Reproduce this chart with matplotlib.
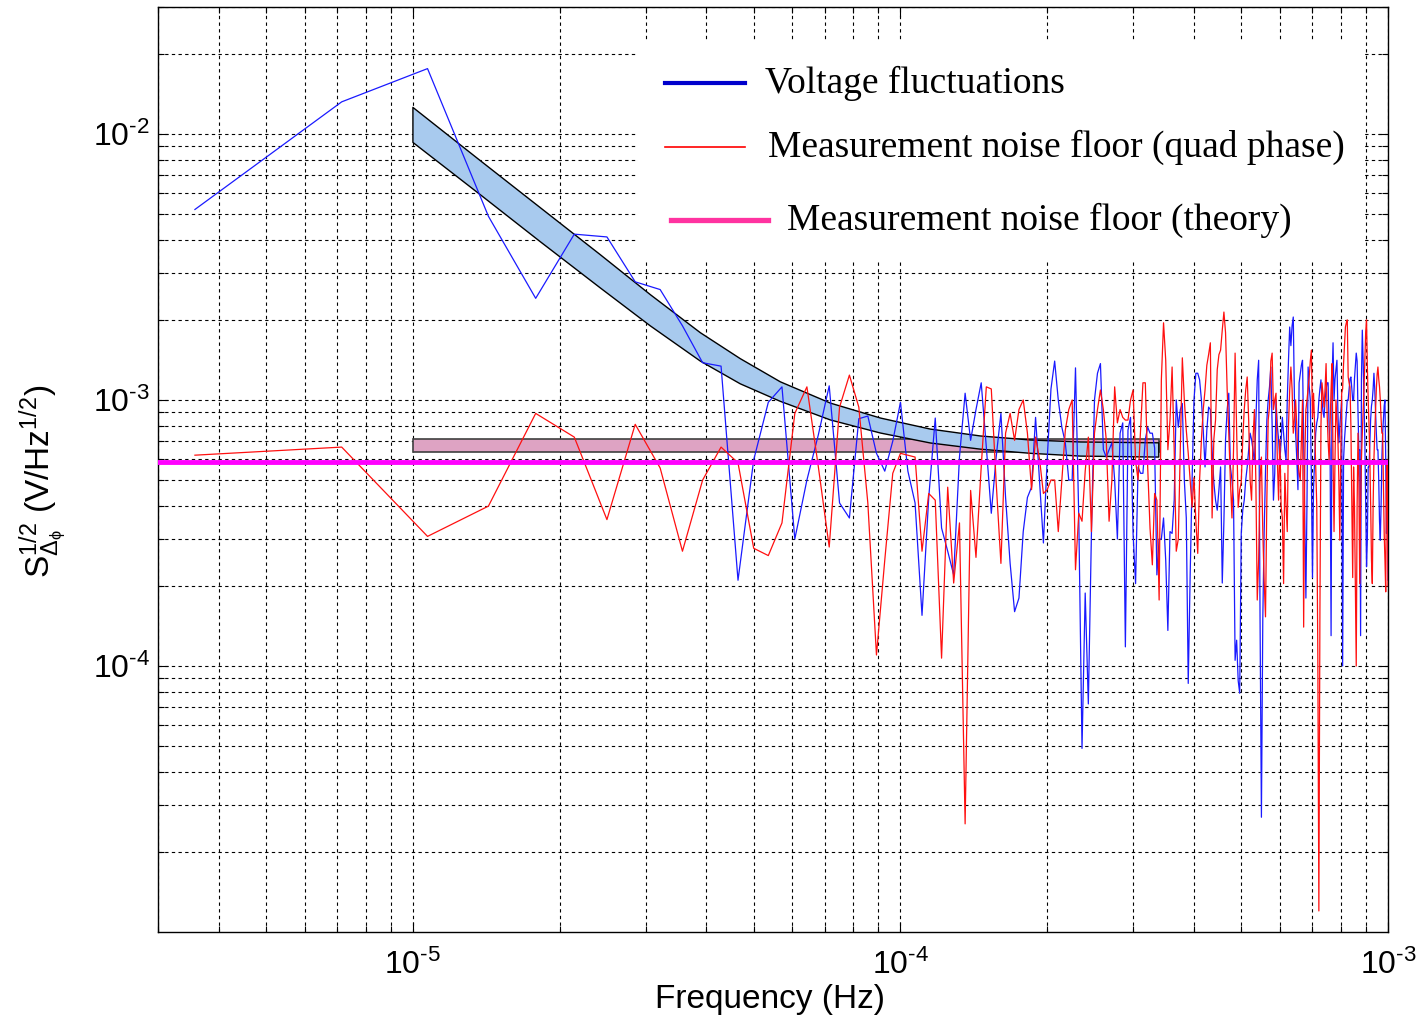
import numpy as np
import matplotlib
matplotlib.use('Agg')
import matplotlib.pyplot as plt
from matplotlib.patches import Rectangle
from matplotlib.lines import Line2D
from matplotlib.ticker import FixedLocator, NullFormatter

plt.rcParams['font.family'] = ['Liberation Sans', 'DejaVu Sans']
plt.rcParams['mathtext.fontset'] = 'custom'
plt.rcParams['mathtext.rm'] = 'Liberation Sans'
plt.rcParams['mathtext.it'] = 'Liberation Sans:italic'
plt.rcParams['mathtext.default'] = 'regular'

# FFT bins: df = 1e-4/28 Hz, 280 bins up to 1 mHz
df = 1e-4 / 28
freq = np.arange(1, 281) * df

# amplitude spectral densities, in units of 1e-4 V/Hz^1/2
volt = np.array([
    52, 132, 176, 49, 24.1, 42, 41, 27.8, 26, 19,
    13.8, 13.4, 2.1, 5.95, 9.8, 11.2, 3.0, 5.0, 7.4, 11.3,
    4.1, 3.6, 8.5, 8.7, 6.3, 5.4, 7.0, 9.8, 5.4, 4.1,
    1.55, 4.3, 8.55, 3.3, 2.7, 2.2, 6.1, 10.6, 7.05, 9.2,
    11.6, 6.65, 3.75, 6.1, 8.9, 4.3, 2.43, 1.6, 1.8, 3.2,
    4.3, 4.7, 8.6, 5.0, 2.9, 6.0, 11.0, 14.0, 10.0, 7.9,
    6.9, 5.0, 5.0, 13.2, 3.6, 0.49, 1.88, 0.72, 3.16, 10.0,
    12.6, 13.7, 6.5, 6.1, 6.5, 6.9, 5.0, 3.0, 7.5, 8.2,
    1.18, 7.7, 8.6, 3.15, 2.04, 5.6, 5.3, 5.3, 7.1, 7.9,
    7.5, 7.5, 6.6, 2.2, 3.0, 3.0, 3.6, 2.5, 1.36, 3.2,
    3.15, 4.2, 10.0, 7.9, 9.2, 9.7, 5.0, 3.6, 0.86, 2.2,
    5.0, 10.0, 12.6, 12.6, 11.9, 10.0, 7.7, 5.6, 7.7, 9.4,
    9.2, 6.5, 4.9, 4.2, 3.85, 4.6, 5.6, 2.05, 3.5, 7.1,
    9.2, 10.6, 5.6, 5.0, 4.2, 1.05, 1.25, 0.88, 0.79, 3.15,
    3.85, 4.2, 5.0, 5.6, 6.5, 7.5, 7.1, 6.5, 5.8, 8.4,
    11.9, 14.1, 1.53, 0.27, 1.5, 3.15, 5.4, 8.4, 10.0, 11.2,
    13.3, 8.0, 4.2, 5.3, 10.0, 8.0, 7.1, 5.95, 7.0, 8.6,
    7.5, 6.5, 5.95, 10.0, 14.1, 18.8, 16.0, 19.0, 20.5, 10.0,
    7.5, 6.0, 4.6, 11.6, 12.5, 13.5, 14.1, 7.1, 3.5, 1.8,
    4.2, 13.3, 11.2, 10.0, 5.0, 2.15, 4.7, 6.0, 7.5, 8.2,
    8.6, 10.0, 11.0, 11.9, 10.0, 9.0, 8.6, 10.0, 11.0, 11.6,
    11.6, 8.0, 6.5, 1.3, 12.0, 16.4, 10.0, 12.0, 13.0, 14.1,
    9.0, 6.9, 8.0, 9.0, 10.0, 1.0, 6.0, 7.1, 8.0, 9.0,
    10.0, 10.0, 11.0, 12.0, 12.2, 11.0, 10.0, 10.0, 12.0, 13.5,
    15.0, 14.0, 9.0, 6.5, 6.5, 1.3, 12.0, 18.3, 14.0, 10.0,
    7.0, 4.0, 2.36, 3.0, 5.6, 5.6, 7.0, 8.5, 9.5, 10.0,
    11.0, 12.6, 11.0, 9.0, 7.5, 6.5, 6.5, 5.0, 3.5, 2.97,
    4.0, 6.0, 7.5, 8.5, 9.5, 10.0, 6.0, 3.15, 4.0, 2.1,
]) * 1e-4

quad = np.array([
    6.2, 6.65, 3.07, 3.99, 8.9, 7.25, 3.55, 8.1, 5.55, 2.7,
    5.0, 6.65, 5.8, 2.77, 2.6, 3.45, 8.9, 11.2, 5.6, 2.8,
    9.4, 12.4, 9.4, 4.1, 1.1, 2.5, 5.3, 6.3, 6.2, 6.1,
    2.7, 4.45, 4.2, 1.07, 4.7, 2.05, 3.45, 0.255, 4.57, 2.56,
    5.6, 11.2, 11.0, 4.9, 2.43, 7.5, 8.9, 7.05, 9.2, 10.0,
    7.5, 4.6, 7.25, 6.0, 4.45, 4.6, 5.0, 5.0, 3.2, 5.0,
    7.7, 9.2, 10.0, 2.3, 3.75, 3.5, 5.4, 7.25, 3.2, 7.5,
    9.2, 10.9, 9.2, 7.1, 3.5, 5.0, 11.2, 8.2, 9.2, 8.6,
    8.4, 8.4, 10.0, 10.9, 5.9, 5.0, 7.7, 11.6, 11.6, 5.6,
    3.3, 2.4, 4.45, 4.2, 1.77, 11.9, 19.5, 14.1, 6.5, 8.4,
    13.3, 6.5, 2.7, 3.0, 6.5, 14.4, 10.0, 7.7, 6.3, 5.0,
    3.95, 5.1, 3.5, 2.65, 5.0, 7.1, 9.2, 10.9, 13.5, 14.8,
    16.4, 3.6, 7.1, 8.4, 13.0, 14.8, 15.4, 18.3, 21.4, 17.9,
    10.9, 7.5, 5.0, 3.6, 6.5, 15.0, 7.7, 3.95, 4.6, 4.9,
    7.1, 9.2, 10.9, 12.2, 8.4, 5.0, 4.2, 7.1, 9.2, 5.0,
    1.77, 2.5, 5.0, 6.1, 3.2, 2.1, 1.53, 4.2, 8.4, 9.4,
    14.0, 15.0, 9.2, 10.0, 10.6, 6.0, 4.2, 7.1, 4.0, 3.6,
    2.04, 5.3, 4.0, 3.2, 8.0, 10.9, 13.3, 11.0, 7.5, 8.5,
    10.0, 8.0, 5.95, 5.3, 5.0, 7.0, 10.0, 1.4, 6.0, 9.2,
    10.0, 11.0, 12.2, 14.0, 15.4, 8.6, 10.6, 8.0, 5.6, 4.0,
    1.11, 0.12, 1.57, 8.0, 11.6, 10.5, 9.4, 11.0, 13.7, 9.0,
    7.0, 5.95, 8.0, 11.0, 13.7, 6.0, 3.2, 6.0, 10.0, 8.5,
    7.1, 5.0, 2.97, 6.0, 10.6, 11.0, 13.7, 16.0, 18.8, 19.5,
    20.0, 12.2, 11.6, 11.2, 8.0, 4.0, 2.15, 5.6, 4.0, 2.0,
    1.0, 4.0, 7.5, 5.0, 2.04, 4.0, 6.0, 7.5, 9.0, 11.0,
    14.0, 18.0, 20.0, 13.3, 10.0, 8.0, 6.0, 4.0, 2.5, 2.04,
    4.0, 6.0, 7.5, 9.0, 11.0, 12.5, 13.3, 12.0, 11.2, 10.0,
    8.5, 7.5, 7.5, 5.0, 3.15, 2.5, 1.9, 5.3, 5.95, 2.0,
]) * 1e-4

# theoretical noise floor level
noise_theory = 5.84e-4

# expected voltage-noise band (upper / lower edges)
band_f = np.array([1.0e-5, 1.373e-5, 1.823e-5, 2.421e-5, 3.067e-5,
                   3.886e-5, 4.692e-5, 5.67e-5, 7.183e-5, 9.10e-5,
                   1.152e-4, 1.46e-4, 1.849e-4, 2.343e-4, 3.387e-4])
band_hi = np.array([125.8, 79.5, 52.9, 35.2, 24.9, 17.9, 14.3, 11.7,
                    9.73, 8.55, 7.77, 7.32, 7.07, 6.95, 6.90]) * 1e-4
band_lo = np.array([92.9, 59.2, 39.4, 26.4, 19.0, 14.0, 11.5, 9.88,
                    8.41, 7.51, 6.89, 6.53, 6.30, 6.15, 6.10]) * 1e-4

# expected quad-phase floor band
floor_f = [1.0e-5, 3.387e-4]
floor_lo = 6.37e-4
floor_hi = 7.13e-4

fig = plt.figure(figsize=(14.2, 10.22), dpi=100)
ax = fig.add_axes([158 / 1420, 90 / 1022, 1230 / 1420, 925 / 1022])
ax.set_xscale('log')
ax.set_yscale('log')
ax.set_xlim(3e-6, 1e-3)
ax.set_ylim(1e-5, 3e-2)

ax.fill([floor_f[0], floor_f[1], floor_f[1], floor_f[0]],
        [floor_lo, floor_lo, floor_hi, floor_hi],
        facecolor='#dea3c3', edgecolor='#404040', lw=1.2, zorder=2)
ax.fill(np.concatenate([band_f, band_f[::-1]]),
        np.concatenate([band_hi, band_lo[::-1]]),
        facecolor='#a8caee', edgecolor='black', lw=1.0, zorder=2.1,
        joinstyle='round')

ax.plot(freq, volt, color='#1a1aff', lw=0.9, zorder=3)
ax.plot(freq, quad, color='#ff1010', lw=0.9, zorder=3.1)
ax.axhline(noise_theory, color='#ff00ff', lw=3.5, zorder=4)

# ticks and grid
ax.xaxis.set_major_locator(FixedLocator([1e-5, 1e-4, 1e-3]))
ax.xaxis.set_minor_locator(FixedLocator(
    [m * 10.0 ** e for e in (-6, -5, -4) for m in range(2, 10)]))
ax.yaxis.set_major_locator(FixedLocator([1e-4, 1e-3, 1e-2]))
ax.yaxis.set_minor_locator(FixedLocator(
    [m * 10.0 ** e for e in (-5, -4, -3, -2) for m in range(2, 10)]))
ax.set_xticklabels([r'$10^{\text{-5}}$', r'$10^{\text{-4}}$', r'$10^{\text{-3}}$'])
ax.set_yticklabels([r'$10^{\text{-4}}$', r'$10^{\text{-3}}$', r'$10^{\text{-2}}$'])
ax.xaxis.set_minor_formatter(NullFormatter())
ax.yaxis.set_minor_formatter(NullFormatter())
ax.tick_params(which='both', direction='in', top=True, right=True,
               labelsize=23, width=0.8, color='black')
ax.tick_params(which='major', length=7)
ax.tick_params(which='minor', length=4)
ax.tick_params(axis='x', pad=13)
ax.tick_params(axis='y', pad=6)
ax.grid(True, which='both', color='black', ls=(0, (3, 3)), lw=0.8)
ax.set_axisbelow(True)
for s in ax.spines.values():
    s.set_linewidth(1.0)

ax.set_xlabel('Frequency (Hz)', fontsize=24)
ax.xaxis.set_label_coords(0.4976, -0.056)
ax.set_ylabel(r'$S^{1/2}_{\Delta_{\phi}}$ (V/Hz$^{1/2}$)', fontsize=24)
ax.yaxis.set_label_coords(-0.072, 0.487)

# legend panel
def ax_xy(px, py):
    return (px - 158) / 1230, (932 - py) / 925

x0, y0 = ax_xy(636, 262)
x1, y1 = ax_xy(1362, 40)
ax.add_patch(Rectangle((x0, y0), x1 - x0, y1 - y0, transform=ax.transAxes,
                       facecolor='white', edgecolor='none', zorder=1.5))
entries = [
    ('Voltage fluctuations', '#0000cc', 3.0, 665, 745, 83, 765),
    ('Measurement noise floor (quad phase)', '#ff0000', 1.2, 665, 745, 147, 768),
    ('Measurement noise floor (theory)', '#ff33a0', 3.8, 671, 768, 220, 787),
]
for label, col, lw, lx0, lx1, ly, tx in entries:
    a0, b = ax_xy(lx0, ly)
    a1, _ = ax_xy(lx1, ly)
    ax.add_line(Line2D([a0, a1], [b, b], transform=ax.transAxes,
                       color=col, lw=lw, zorder=5))
    ta, tb = ax_xy(tx, ly)
    ax.text(ta, tb, label, transform=ax.transAxes, fontsize=27,
            family=['Liberation Serif', 'DejaVu Serif'],
            ha='left', va='center', zorder=5)

fig.savefig('out.png', dpi=100)
